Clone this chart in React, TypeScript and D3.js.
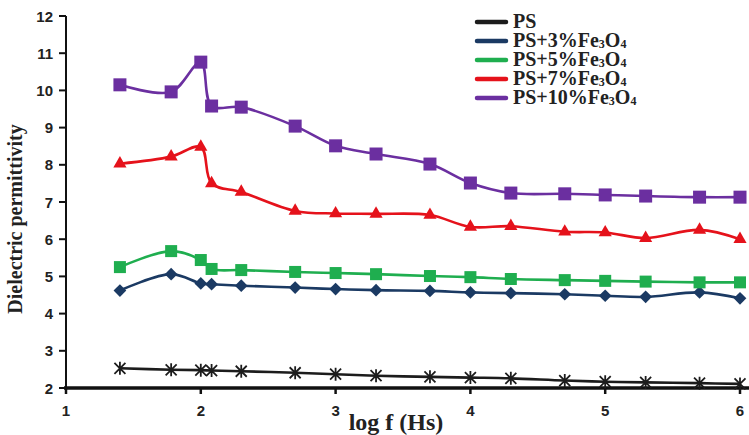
import React, { useEffect, useRef } from 'react';
import * as d3 from 'd3';

// log f values (25 Hz ... 1 MHz)
const logF = [1.4, 1.78, 2, 2.08, 2.3, 2.7, 3, 3.3, 3.7, 4, 4.3, 4.7, 5, 5.3, 5.7, 6];

const ps = [2.53, 2.49, 2.48, 2.47, 2.45, 2.41, 2.37, 2.33, 2.3, 2.28, 2.26, 2.2, 2.17, 2.15, 2.13, 2.11];
const ps3 = [4.62, 5.06, 4.81, 4.79, 4.75, 4.7, 4.66, 4.63, 4.61, 4.57, 4.55, 4.52, 4.48, 4.45, 4.57, 4.41];
const ps5 = [5.25, 5.68, 5.44, 5.2, 5.17, 5.12, 5.09, 5.06, 5.01, 4.98, 4.93, 4.9, 4.88, 4.86, 4.84, 4.84];
const ps7 = [8.03, 8.22, 8.48, 7.5, 7.27, 6.76, 6.69, 6.68, 6.65, 6.33, 6.35, 6.2, 6.18, 6.03, 6.25, 6.0];
const ps10 = [10.15, 9.96, 10.76, 9.58, 9.55, 9.04, 8.51, 8.29, 8.02, 7.51, 7.24, 7.22, 7.19, 7.16, 7.13, 7.13];

const xTicks = [1, 2, 3, 4, 5, 6];
const yTicks = [2, 3, 4, 5, 6, 7, 8, 9, 10, 11, 12];

const series = [
  { name: 'PS', pct: '', values: ps, color: '#1c1c1c', marker: 'star' },
  { name: 'PS+3%', pct: '3', values: ps3, color: '#1b3a63', marker: 'diamond' },
  { name: 'PS+5%', pct: '5', values: ps5, color: '#1fae4f', marker: 'square' },
  { name: 'PS+7%', pct: '7', values: ps7, color: '#e5121b', marker: 'triangle' },
  { name: 'PS+10%', pct: '10', values: ps10, color: '#6b2fa0', marker: 'square' },
];

export default function App() {
  const ref = useRef<SVGSVGElement>(null);

  useEffect(() => {
    const svg = d3.select(ref.current);
    svg.selectAll('*').remove();

    const x = d3.scaleLinear().domain([1, 6]).range([66, 740]);
    const y = d3.scaleLinear().domain([2, 12]).range([388, 16]);

    // y axis
    svg.append('line')
      .attr('x1', x(1)).attr('x2', x(1))
      .attr('y1', y(12)).attr('y2', y(2))
      .attr('stroke', '#111').attr('stroke-width', 2);
    yTicks.forEach((t) => {
      svg.append('line')
        .attr('x1', x(1) - 7).attr('x2', x(1))
        .attr('y1', y(t)).attr('y2', y(t))
        .attr('stroke', '#111').attr('stroke-width', 2);
      svg.append('text')
        .attr('x', 53).attr('y', y(t) + 5.5)
        .attr('text-anchor', 'end')
        .attr('font-family', 'Liberation Sans, Arial, sans-serif')
        .attr('font-weight', 'bold').attr('font-size', 15)
        .attr('fill', '#222')
        .text(t);
    });

    // x axis (thick)
    svg.append('line')
      .attr('x1', x(1) - 2).attr('x2', 749)
      .attr('y1', y(2)).attr('y2', y(2))
      .attr('stroke', '#111').attr('stroke-width', 3.5);
    xTicks.forEach((t) => {
      svg.append('line')
        .attr('x1', x(t)).attr('x2', x(t))
        .attr('y1', y(2)).attr('y2', y(2) + 6)
        .attr('stroke', '#111').attr('stroke-width', 2.5);
      svg.append('text')
        .attr('x', x(t)).attr('y', 416)
        .attr('text-anchor', 'middle')
        .attr('font-family', 'Liberation Sans, Arial, sans-serif')
        .attr('font-weight', 'bold').attr('font-size', 15)
        .attr('fill', '#222')
        .text(t);
    });

    // axis titles
    svg.append('text')
      .attr('x', 396).attr('y', 430)
      .attr('text-anchor', 'middle')
      .attr('font-family', 'Liberation Serif, Times New Roman, serif')
      .attr('font-weight', 'bold').attr('font-size', 24)
      .attr('fill', '#222')
      .text('log f (Hs)');
    svg.append('text')
      .attr('transform', 'translate(22,219) rotate(-90)')
      .attr('text-anchor', 'middle')
      .attr('font-family', 'Liberation Serif, Times New Roman, serif')
      .attr('font-weight', 'bold').attr('font-size', 20)
      .attr('fill', '#222')
      .text('Dielectric permittivity');

    const line = d3.line<number>()
      .x((d, i) => x(logF[i]))
      .y((d) => y(d))
      .curve(d3.curveCatmullRom.alpha(0.5));

    series.forEach((s) => {
      svg.append('path')
        .attr('d', line(s.values))
        .attr('fill', 'none')
        .attr('stroke', s.color)
        .attr('stroke-width', 2.6);

      const g = svg.append('g');
      s.values.forEach((v, i) => {
        const cx = x(logF[i]);
        const cy = y(v);
        if (s.marker === 'square') {
          const sz = s.pct === '10' ? 13 : 12;
          g.append('rect')
            .attr('x', cx - sz / 2).attr('y', cy - sz / 2)
            .attr('width', sz).attr('height', sz)
            .attr('fill', s.color);
        } else if (s.marker === 'triangle') {
          g.append('path')
            .attr('d', d3.symbol().type(d3.symbolTriangle).size(75)())
            .attr('transform', `translate(${cx},${cy})`)
            .attr('fill', s.color);
        } else if (s.marker === 'diamond') {
          g.append('rect')
            .attr('x', -4.5).attr('y', -4.5)
            .attr('width', 9).attr('height', 9)
            .attr('transform', `translate(${cx},${cy}) rotate(45)`)
            .attr('fill', s.color);
        } else {
          const r = 5.5;
          const d = `M${-r},${-r}L${r},${r}M${-r},${r}L${r},${-r}M0,${-r - 1}L0,${r + 1}`;
          g.append('path')
            .attr('d', d)
            .attr('transform', `translate(${cx},${cy})`)
            .attr('stroke', s.color)
            .attr('stroke-width', 1.8)
            .attr('fill', 'none');
        }
      });
    });

    // legend
    const legY = [22, 41, 60, 79, 98];
    series.forEach((s, i) => {
      const ly = legY[i];
      svg.append('line')
        .attr('x1', 477).attr('x2', 506)
        .attr('y1', ly).attr('y2', ly)
        .attr('stroke', s.color).attr('stroke-width', 4.5)
        .attr('stroke-linecap', 'round');
      const t = svg.append('text')
        .attr('x', 513).attr('y', ly + 6)
        .attr('font-family', 'Liberation Serif, Times New Roman, serif')
        .attr('font-weight', 'bold').attr('font-size', 20)
        .attr('fill', '#222');
      if (s.pct === '') {
        t.text(s.name);
      } else {
        t.append('tspan').text(s.name + 'Fe');
        t.append('tspan').attr('font-size', 12).attr('dy', 1).text('3');
        t.append('tspan').attr('dy', -1).text('O');
        t.append('tspan').attr('font-size', 12).attr('dy', 1).text('4');
      }
    });
  }, []);

  return (
    <svg
      ref={ref}
      width={749}
      height={435}
      style={{ position: 'absolute', left: 0, top: 0, background: '#fff' }}
    />
  );
}
